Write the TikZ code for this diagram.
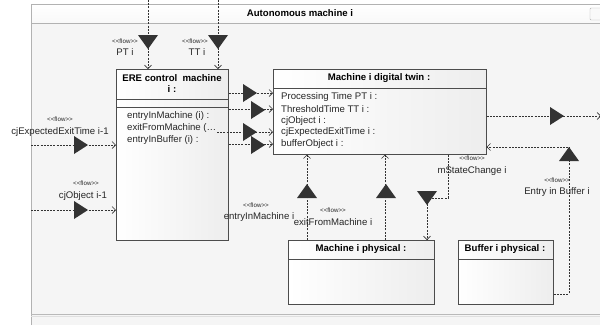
\documentclass[tikz,border=0pt]{standalone}
\usepackage{fontspec}
\newfontfamily\lsans{Liberation Sans}
\usetikzlibrary{arrows.meta,calc}
\begin{document}
\begin{tikzpicture}[x=1pt,y=-1pt,
  every node/.style={font=\lsans\fontsize{9.6}{11}\selectfont, text=black!85, inner sep=0pt},
  box/.style={draw=gray!60!black, line width=0.6pt, left color=white, right color=gray!14, inner sep=0pt, anchor=north west},
  hdr/.style={font=\lsans\bfseries\fontsize{9.6}{11}\selectfont, align=center, text=black},
  attr/.style={anchor=west},
  flowlbl/.style={font=\lsans\fontsize{6.2}{7}\selectfont},
  flow/.style={draw=black!80, line width=0.6pt, dash pattern=on 2pt off 1.2pt, -{Straight Barb[length=3.5pt,width=7pt]}},
  sep/.style={draw=gray!60!black, line width=0.6pt},
  trir/.pic={\fill[black!80] (-7,-9) -- (7,0) -- (-7,9) -- cycle;},
  trid/.pic={\fill[black!80] (-10,-7) -- (10,-7) -- (0,7) -- cycle;},
  triu/.pic={\fill[black!80] (-10,7) -- (10,7) -- (0,-7) -- cycle;}
]
\useasboundingbox (0,0) rectangle (600,325);
% frame
\fill[white] (0,0) rectangle (600,325);
\fill[gray!8] (31,23) rectangle (600,325);
\shade[top color=white, bottom color=gray!5] (31,4) rectangle (600,23);
\draw[gray!60, line width=0.8pt] (31,325) -- (31,4) -- (600,4);
\draw[gray!60, line width=0.8pt] (31,23) -- (600,23);
\draw[gray!55, line width=1pt] (31,314) -- (600,314);
\draw[gray!25, line width=0.8pt] (31,316) -- (600,316);
\draw[gray!60, fill=gray!5, rounded corners=1pt] (590,8) rectangle (606,20);
\node[hdr] (title) at (300,13) {Autonomous machine i};

% boxes
\node[box, minimum width=112pt, minimum height=171pt] (ere) at (116,69) {};
\node[box, minimum width=213pt, minimum height=85pt] (dt) at (273,69) {};
\node[box, minimum width=146pt, minimum height=64pt] (mp) at (288,240) {};
\node[box, minimum width=95pt, minimum height=64pt] (bp) at (458,240) {};

\draw[sep] (116,99) -- (228,99);
\draw[sep] (116,107) -- (228,107);
\draw[sep] (273,88) -- (486,88);
\draw[sep] (288,259) -- (434,259);
\draw[sep] (458,259) -- (553,259);

\node[hdr] (ereh) at (172,84) {ERE control\ \ machine\\i :};
\node[hdr] (dth) at (379,78) {Machine i digital twin :};
\node[hdr] (mph) at (361,249) {Machine i physical :};
\node[hdr] (bph) at (505,249) {Buffer i physical :};

\node[attr] (e1) at (127,116) {entryInMachine (i) :};
\node[attr] (e2) at (127,128) {exitFromMachine (\ldots};
\node[attr] (e3) at (127,140) {entryInBuffer (i) :};

\node[attr] (d1) at (281,97) {Processing Time PT i :};
\node[attr] (d2) at (281,109) {ThresholdTime TT i :};
\node[attr] (d3) at (281,121) {cjObject i :};
\node[attr] (d4) at (281,132) {cjExpectedExitTime i :};
\node[attr] (d5) at (281,144) {bufferObject i :};

% free ends
\coordinate (ptTop) at (148,0);
\coordinate (ttTop) at (218,0);
\coordinate (lin1) at (31,145);
\coordinate (lin2) at (31,210);
\coordinate (rout) at (601,116);
\coordinate (exitStart) at (217,132);

% PT / TT
\draw[flow] (ptTop) -- (ere.north -| ptTop);
\pic at (148,42) {trid};
\node[flowlbl] (ptf) at (125,41) {<<flow>>};
\node (ptl) at (125,52) {PT i};
\draw[flow] (ttTop) -- (ere.north -| ttTop);
\pic at (218,42) {trid};
\node[flowlbl] (ttf) at (195,41) {<<flow>>};
\node (ttl) at (197,52) {TT i};

% left inputs
\draw[flow] (lin1) -- (ere.west |- lin1);
\pic at (81,145) {trir};
\node[flowlbl] (cjef) at (60,119) {<<flow>>};
\node (cjel) at (60,132) {cjExpectedExitTime i-1};
\draw[flow] (lin2) -- (ere.west |- lin2);
\pic at (81,210) {trir};
\node[flowlbl] (cjof) at (86,183) {<<flow>>};
\node (cjol) at (83,196) {cjObject i-1};

% ERE -> digital twin
\draw[flow] (ere.east |- 0,93) -- (dt.west |- 0,93);
\pic at (250,93) {trir};
\draw[flow] (ere.east |- 0,109) -- (dt.west |- 0,109);
\pic at (258,110) {trir};
\draw[flow] (exitStart) -- (dt.west |- exitStart);
\pic at (250,132) {trir};
\draw[flow] (ere.east |- 0,144) -- (dt.west |- 0,144);
\pic at (258,145) {trir};

% digital twin -> right
\draw[flow] (dt.east |- rout) -- (rout);
\pic at (557,116) {trir};

% Entry in Buffer
\draw[flow] (bp.east |- 0,294) -- (569,294) -- (569,147) -- (dt.east |- 0,147);
\pic at (569,154) {triu};
\node[flowlbl] (ebf) at (557,180) {<<flow>>};
\node (ebl) at (557,192) {Entry in Buffer i};

% machine physical -> digital twin
\draw[flow] (mp.north -| 307,0) -- (dt.south -| 307,0);
\pic at (307,191) {triu};
\node[flowlbl] (eimf) at (256,205) {<<flow>>};
\node (eiml) at (259,217) {entryInMachine i};
\draw[flow] (mp.north -| 385,0) -- (dt.south -| 385,0);
\pic at (386,191) {triu};
\node[flowlbl] (efmf) at (333,210) {<<flow>>};
\node (efml) at (333,222) {exitFromMachine i};

% mStateChange
\draw[flow] (dt.south -| 448,0) -- (448,198) -- (427,198) -- (mp.north -| 427,0);
\pic at (427,198) {trid};
\node[flowlbl] (msf) at (472,158) {<<flow>>};
\node (msl) at (472,171) {mStateChange i};
\end{tikzpicture}
\end{document}
